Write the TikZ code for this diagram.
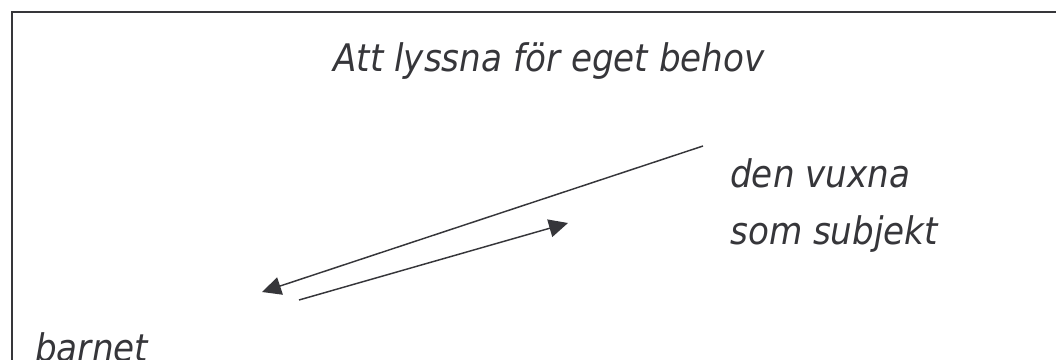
\documentclass[tikz,border=0pt]{standalone}
\usepackage{fontspec}
\setmainfont{DejaVu Sans}[FakeStretch=0.9]
\usetikzlibrary{arrows.meta}
\definecolor{ink}{HTML}{36363A}
\tikzset{
  label text/.style={inner sep=0pt, text=ink, font=\fontsize{28.5pt}{34pt}\selectfont\itshape},
  frame line/.style={draw=ink, line width=1.5pt},
  link/.style={draw=ink, line width=1.1pt, -{Triangle[length=14.25pt, width=13.5pt]}}
}
\begin{document}
\begin{tikzpicture}[x=0.75pt, y=-0.75pt]
  \useasboundingbox (0,0) rectangle (1056,360);
  \begin{scope}
    \clip (0,0) rectangle (1056,360);
    % open frame: top and left edges only
    \draw[frame line] (1060,12) -- (12,12) -- (12,370);

    % texts
    \node[label text, anchor=base west] (title) at (333,72) {Att lyssna för eget behov};
    \node[label text, anchor=base west] (adult1) at (730,187) {den vuxna};
    \node[label text, anchor=base west] (adult2) at (730,244) {som subjekt};
    \node[label text, anchor=base west] (child) at (35,361) {barnet};

    % end points of the two arrows
    \coordinate (fromAdult) at (703,146);
    \coordinate (toChild) at (262,292);
    \coordinate (fromChild) at (299,300);
    \coordinate (toAdult) at (568,223);

    \draw[link] (fromAdult) -- (toChild);
    \draw[link] (fromChild) -- (toAdult);
  \end{scope}
\end{tikzpicture}
\end{document}
